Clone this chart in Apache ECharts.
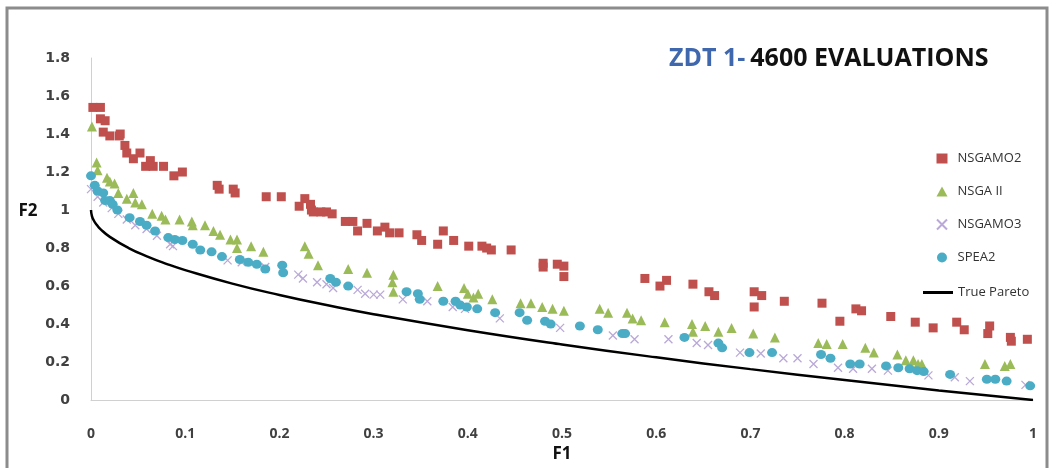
<!DOCTYPE html>
<html><head><meta charset="utf-8">
<script src="https://cdn.jsdelivr.net/npm/echarts@6/dist/echarts.min.js"></script>
<style>html,body{margin:0;padding:0;background:#fff}#c{width:1059px;height:468px}</style>
</head><body><div id="c"></div>
<script>
const xTicks = [0,0.1,0.2,0.3,0.4,0.5,0.6,0.7,0.8,0.9,1];
const yTicks = [0,0.2,0.4,0.6,0.8,1,1.2,1.4,1.6,1.8];
const nsgamo2 = [[0.002,1.54],[0.01,1.54],[0.01,1.48],[0.015,1.47],[0.013,1.41],[0.02,1.39],[0.03,1.39],[0.031,1.40],[0.036,1.34],[0.038,1.30],[0.045,1.27],[0.052,1.30],[0.058,1.23],[0.063,1.26],[0.066,1.23],[0.077,1.23],[0.088,1.18],[0.097,1.20],[0.134,1.13],[0.136,1.11],[0.151,1.11],[0.153,1.09],[0.186,1.07],[0.202,1.07],[0.221,1.02],[0.227,1.06],[0.233,1.03],[0.234,1.00],[0.236,0.99],[0.244,0.99],[0.25,0.99],[0.256,0.98],[0.27,0.94],[0.278,0.94],[0.283,0.89],[0.293,0.93],[0.304,0.89],[0.312,0.91],[0.317,0.88],[0.327,0.88],[0.346,0.87],[0.351,0.84],[0.368,0.82],[0.374,0.89],[0.385,0.84],[0.401,0.81],[0.415,0.81],[0.42,0.80],[0.425,0.79],[0.446,0.79],[0.48,0.72],[0.48,0.70],[0.495,0.715],[0.502,0.705],[0.502,0.65],[0.588,0.64],[0.604,0.60],[0.611,0.63],[0.639,0.61],[0.656,0.57],[0.662,0.55],[0.704,0.57],[0.712,0.55],[0.704,0.49],[0.736,0.52],[0.776,0.51],[0.795,0.415],[0.812,0.48],[0.818,0.47],[0.849,0.44],[0.875,0.41],[0.894,0.38],[0.919,0.41],[0.927,0.37],[0.954,0.39],[0.952,0.35],[0.976,0.33],[0.977,0.31],[0.994,0.32]];
const nsga2 = [[0.001,1.44],[0.006,1.25],[0.007,1.21],[0.017,1.17],[0.02,1.15],[0.025,1.14],[0.029,1.09],[0.038,1.06],[0.045,1.09],[0.047,1.04],[0.054,1.03],[0.065,0.98],[0.075,0.97],[0.079,0.95],[0.094,0.95],[0.107,0.94],[0.108,0.92],[0.121,0.92],[0.13,0.89],[0.137,0.87],[0.148,0.845],[0.155,0.845],[0.155,0.80],[0.17,0.81],[0.183,0.78],[0.227,0.81],[0.231,0.77],[0.241,0.71],[0.273,0.69],[0.293,0.67],[0.321,0.66],[0.32,0.62],[0.321,0.57],[0.368,0.60],[0.396,0.59],[0.40,0.56],[0.411,0.56],[0.406,0.54],[0.426,0.53],[0.456,0.51],[0.467,0.51],[0.479,0.49],[0.49,0.48],[0.502,0.47],[0.54,0.48],[0.549,0.46],[0.569,0.46],[0.575,0.43],[0.584,0.42],[0.609,0.41],[0.638,0.40],[0.639,0.36],[0.652,0.39],[0.666,0.36],[0.68,0.38],[0.703,0.35],[0.726,0.33],[0.772,0.30],[0.781,0.295],[0.798,0.295],[0.822,0.275],[0.831,0.25],[0.856,0.24],[0.865,0.21],[0.873,0.21],[0.878,0.19],[0.882,0.19],[0.949,0.19],[0.97,0.18],[0.976,0.19]];
const nsgamo3 = [[0.0,1.11],[0.007,1.07],[0.013,1.04],[0.022,1.01],[0.029,0.98],[0.038,0.95],[0.047,0.92],[0.059,0.90],[0.07,0.865],[0.084,0.82],[0.087,0.81],[0.145,0.735],[0.16,0.725],[0.185,0.70],[0.22,0.66],[0.225,0.64],[0.24,0.62],[0.25,0.61],[0.257,0.59],[0.283,0.58],[0.291,0.56],[0.30,0.555],[0.307,0.555],[0.331,0.53],[0.357,0.52],[0.384,0.49],[0.397,0.48],[0.434,0.43],[0.498,0.38],[0.554,0.34],[0.577,0.32],[0.613,0.32],[0.643,0.30],[0.655,0.29],[0.689,0.25],[0.711,0.245],[0.735,0.22],[0.75,0.22],[0.767,0.19],[0.793,0.17],[0.809,0.165],[0.829,0.165],[0.846,0.155],[0.889,0.13],[0.917,0.12],[0.933,0.10],[0.992,0.08]];
const spea2 = [[0.0,1.18],[0.004,1.13],[0.007,1.10],[0.013,1.09],[0.015,1.05],[0.02,1.05],[0.023,1.03],[0.028,1.00],[0.041,0.96],[0.052,0.94],[0.059,0.92],[0.068,0.89],[0.082,0.855],[0.089,0.845],[0.097,0.84],[0.108,0.82],[0.116,0.79],[0.128,0.78],[0.139,0.755],[0.158,0.74],[0.167,0.725],[0.176,0.715],[0.185,0.69],[0.203,0.71],[0.204,0.67],[0.254,0.64],[0.26,0.62],[0.273,0.60],[0.335,0.57],[0.347,0.56],[0.349,0.53],[0.374,0.52],[0.387,0.52],[0.392,0.50],[0.399,0.49],[0.41,0.48],[0.429,0.46],[0.455,0.46],[0.463,0.42],[0.482,0.415],[0.488,0.40],[0.519,0.39],[0.538,0.37],[0.564,0.35],[0.567,0.35],[0.63,0.33],[0.666,0.30],[0.67,0.275],[0.699,0.25],[0.723,0.25],[0.775,0.24],[0.785,0.22],[0.806,0.19],[0.816,0.19],[0.844,0.18],[0.857,0.17],[0.869,0.165],[0.877,0.155],[0.884,0.15],[0.912,0.135],[0.951,0.11],[0.96,0.11],[0.972,0.10],[0.997,0.075]];
const truePareto = [[0,1],[0.001,0.968],[0.003,0.945],[0.006,0.923],[0.01,0.9],[0.02,0.859],[0.04,0.8],[0.06,0.755],[0.08,0.717],[0.1,0.684],[0.15,0.613],[0.2,0.553],[0.25,0.5],[0.3,0.452],[0.4,0.368],[0.5,0.293],[0.6,0.225],[0.7,0.163],[0.8,0.106],[0.9,0.051],[1,0]];
const scatterNames = ['NSGAMO2','NSGA II','NSGAMO3','SPEA2'];
const lineNames = ['True Pareto'];

const chart = echarts.init(document.getElementById('c'));
const legText = {fontFamily:'Open Sans',fontSize:13,color:'#333'};
chart.setOption({
  backgroundColor:'#fff',
  animation:false,
  graphic:[
    {type:'rect',shape:{x:7,y:8,width:1040,height:470},style:{fill:'none',stroke:'#8c8c8c',lineWidth:3},z:-1},
    {type:'text',x:28,y:211,style:{text:'F2',fontFamily:'Open Sans',fontWeight:'bold',fontSize:17,fill:'#111',align:'center',verticalAlign:'middle'}}
  ],
  title:{text:'{a|ZDT 1-} {b|4600 EVALUATIONS}',left:664,top:41,
    textStyle:{rich:{a:{fontFamily:'Open Sans',fontWeight:'bold',fontSize:25,color:'#3f67ad'},b:{fontFamily:'Open Sans',fontWeight:'bold',fontSize:25,color:'#111'}}}},
  legend:[
    {orient:'vertical',left:931,top:147,itemWidth:11,itemHeight:10,itemGap:20,
     textStyle:Object.assign({padding:[0,0,0,5]},legText),data:scatterNames},
    {orient:'vertical',left:918,top:281,itemWidth:30,itemHeight:3,itemGap:20,
     textStyle:legText,data:[{name:lineNames[0],icon:'rect'}]}
  ],
  grid:{left:91,right:26,top:58,bottom:63},
  xAxis:{type:'value',min:0,max:1,interval:0.1,name:'F1',nameLocation:'middle',nameGap:42,
    nameTextStyle:{fontFamily:'Open Sans',fontWeight:'bold',fontSize:17,color:'#111'},
    axisLine:{lineStyle:{color:'#d0d0d0',width:1}},axisTick:{show:false},splitLine:{show:false},
    axisLabel:{margin:27,fontFamily:'Open Sans',fontWeight:'bold',fontSize:14,color:'#404040',
      formatter:v=>{const t=xTicks.find(x=>Math.abs(x-v)<1e-6);return t===undefined?'':String(t);}}},
  yAxis:{type:'value',min:0,max:1.8,interval:0.2,
    axisLine:{show:true,lineStyle:{color:'#d0d0d0',width:1}},axisTick:{show:false},splitLine:{show:false},
    axisLabel:{margin:21,fontFamily:'DejaVu Sans',fontWeight:'bold',fontSize:14,color:'#404040',
      formatter:v=>{const t=yTicks.find(x=>Math.abs(x-v)<1e-6);return t===undefined?'':String(t);}}},
  series:[
    {name:'NSGAMO2',type:'scatter',symbol:'rect',symbolSize:9,data:nsgamo2,itemStyle:{color:'#c0504d',opacity:1}},
    {name:'NSGA II',type:'scatter',symbol:'triangle',symbolSize:10,data:nsga2,itemStyle:{color:'#9bbb59',opacity:1}},
    {name:'NSGAMO3',type:'scatter',symbol:'path://M0,0L10,10M10,0L0,10',symbolSize:8,data:nsgamo3,
      itemStyle:{color:'rgba(0,0,0,0)',borderColor:'#b9a8d8',borderWidth:1.3,opacity:1}},
    {name:'SPEA2',type:'scatter',symbol:'circle',symbolSize:[10,9],data:spea2,itemStyle:{color:'#4bacc6',opacity:1}},
    {name:'True Pareto',type:'line',smooth:true,showSymbol:false,symbol:'none',data:truePareto,
      lineStyle:{color:'#000',width:2.5},itemStyle:{color:'#000'},z:1}
  ]
});
</script></body></html>
